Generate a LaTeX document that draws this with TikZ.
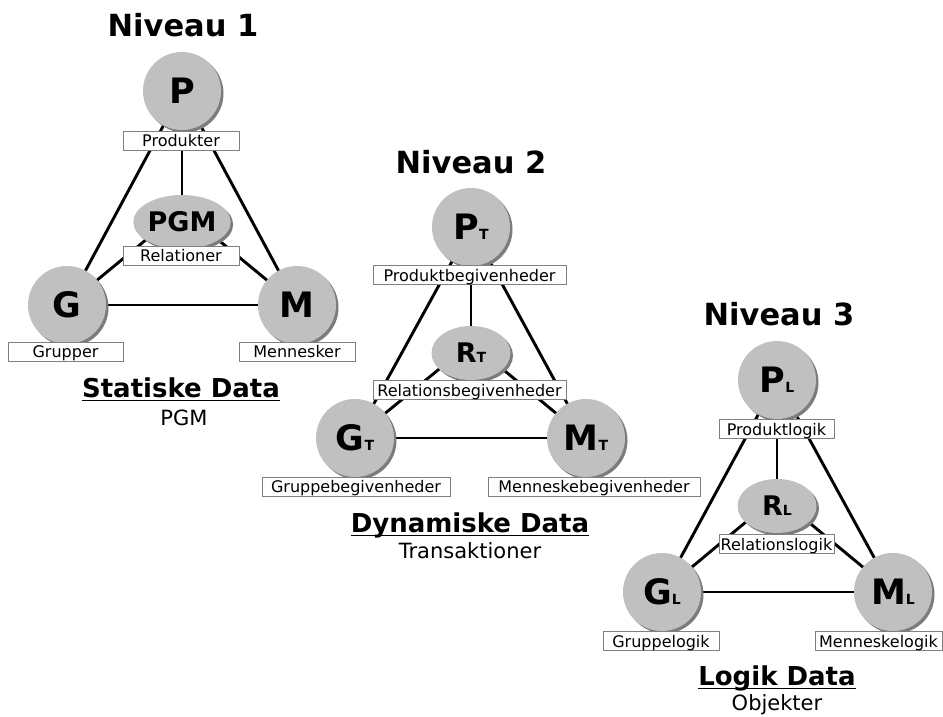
\documentclass[tikz,border=0pt]{standalone}
\usepackage{fontspec}
\setmainfont{DejaVu Sans}
\usetikzlibrary{shapes.geometric,shadows,backgrounds}

\definecolor{discfill}{HTML}{C0C0C0}
\definecolor{discshade}{HTML}{7C7C7C}
\definecolor{tagline}{HTML}{808080}

% small index letter after a big node letter
\newcommand\idx[1]{{\fontsize{14}{14}\selectfont #1}}

\tikzset{
  shade/.style={drop shadow={shadow xshift=2.5pt, shadow yshift=-2.5pt, fill=discshade, opacity=1}},
  disc/.style={circle, fill=discfill, minimum size=78pt, inner sep=0pt, shade,
    font=\fontsize{35}{35}\selectfont\bfseries},
  hub/.style={ellipse, fill=discfill, minimum width=79pt, minimum height=54pt, inner sep=0pt, shade,
    font=\fontsize{27}{27}\selectfont\bfseries},
  tag/.style={rectangle, draw=tagline, fill=white, line width=0.9pt, inner sep=0pt,
    minimum height=19pt, text height=12pt, text depth=0pt,
    font=\fontsize{16}{16}\selectfont},
  link/.style={line width=2.9pt, black},
  title/.style={anchor=base, inner sep=0pt, font=\fontsize{30.5}{30.5}\selectfont\bfseries},
  head/.style={anchor=base, inner sep=0pt, font=\fontsize{26}{26}\selectfont\bfseries},
  sub/.style={anchor=base, inner sep=0pt, font=\fontsize{21}{21}\selectfont},
  uline/.style={line width=1.4pt, black}
}

\begin{document}
\begin{tikzpicture}[x=1pt,y=-1pt]
\useasboundingbox (0,0) rectangle (943,717);

% ---------- Niveau 1 ----------
\node[title] (n1) at (183,37) {Niveau 1};
\node[disc] (p1) at (182,91) {P};
\node[hub]  (r1) at (182,222) {PGM};
\node[disc] (g1) at (67,305) {G};
\node[disc] (m1) at (297,305) {M};
\coordinate (r1a) at (182,210);
\node[tag, minimum width=116pt] (tp1) at (181,140.5) {Produkter};
\node[tag, minimum width=116pt] (tr1) at (181,255.5) {Relationer};
\node[tag, minimum width=115pt] (tg1) at (65.5,351.5) {Grupper};
\node[tag, minimum width=116pt] (tm1) at (297,351.5) {Mennesker};
\node[head] (h1) at (181,397) {Statiske Data};
\draw[uline] ([yshift=-3.5pt]h1.base west) -- ([yshift=-3.5pt]h1.base east);
\node[sub] (s1) at (184,425) {PGM};

% ---------- Niveau 2 ----------
\node[title] (n2) at (471,173) {Niveau 2};
\node[disc] (p2) at (471,227) {P\idx{T}};
\node[hub]  (r2) at (471,353) {R\idx{T}};
\node[disc] (g2) at (355,438) {G\idx{T}};
\node[disc] (m2) at (586,438) {M\idx{T}};
\coordinate (r2a) at (471,343);
\node[tag, minimum width=193pt] (tp2) at (469.5,275) {Produktbegivenheder};
\node[tag, minimum width=193pt] (tr2) at (469.5,390) {Relationsbegivenheder};
\node[tag, minimum width=188pt] (tg2) at (356,486.5) {Gruppebegivenheder};
\node[tag, minimum width=212pt] (tm2) at (594,486.5) {Menneskebegivenheder};
\node[head] (h2) at (470,532) {Dynamiske Data};
\draw[uline] ([yshift=-3.5pt]h2.base west) -- ([yshift=-3.5pt]h2.base east);
\node[sub] (s2) at (470,558) {Transaktioner};

% ---------- Niveau 3 ----------
\node[title] (n3) at (779,325) {Niveau 3};
\node[disc] (p3) at (777,380) {P\idx{L}};
\node[hub]  (r3) at (777,506) {R\idx{L}};
\node[disc] (g3) at (662,592) {G\idx{L}};
\node[disc] (m3) at (893,592) {M\idx{L}};
\coordinate (r3a) at (777,496);
\node[tag, minimum width=115pt] (tp3) at (776.5,429) {Produktlogik};
\node[tag, minimum width=115pt] (tr3) at (776.5,544) {Relationslogik};
\node[tag, minimum width=116pt] (tg3) at (661,641) {Gruppelogik};
\node[tag, minimum width=127pt] (tm3) at (878.5,641) {Menneskelogik};
\node[head] (h3) at (777,685) {Logik Data};
\draw[uline] ([yshift=-3.5pt]h3.base west) -- ([yshift=-3.5pt]h3.base east);
\node[sub] (s3) at (777,710) {Objekter};

% ---------- connectors, behind discs and tags ----------
\begin{pgfonlayer}{background}
  \fill[white] (0,0) rectangle (943,717);
  \foreach \k in {1,2,3}{
    \draw[link] (p\k.center) -- (g\k.center);
    \draw[link] (p\k.center) -- (m\k.center);
    \draw[link] (g\k.center) -- (m\k.center);
    \draw[link] (p\k.center) -- (r\k.center);
    \draw[link] (r\k a) -- (g\k.center);
    \draw[link] (r\k a) -- (m\k.center);
  }
\end{pgfonlayer}
\end{tikzpicture}
\end{document}
